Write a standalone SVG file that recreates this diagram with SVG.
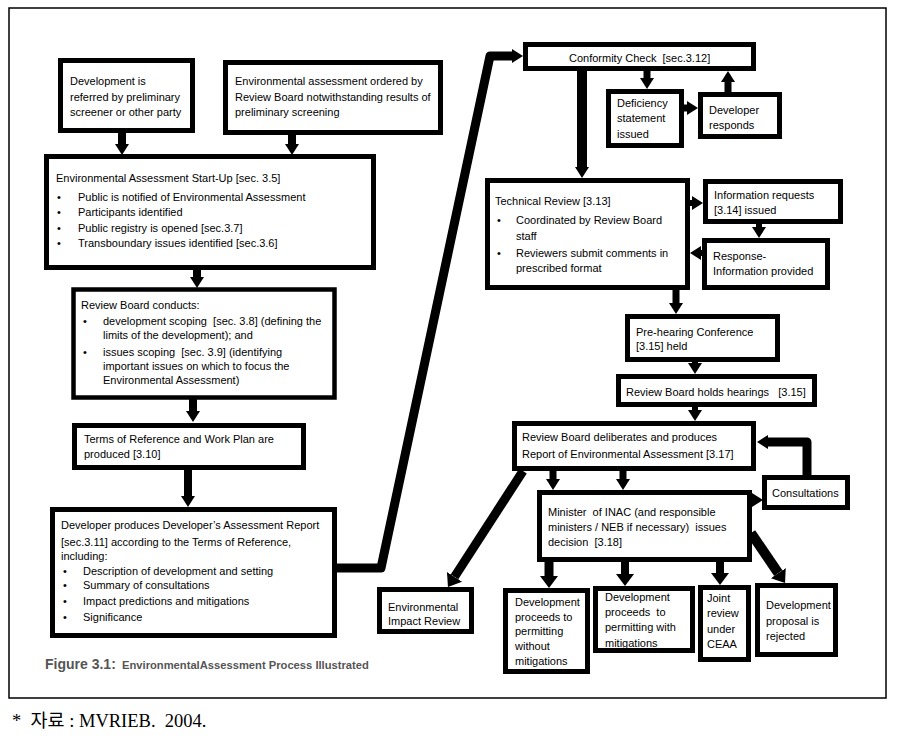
<svg xmlns="http://www.w3.org/2000/svg" width="902" height="741" viewBox="0 0 902 741">
<defs>
<style>
.box{fill:#fff;stroke:#000;stroke-width:5}
.t{font-family:"Liberation Sans",Arial,sans-serif;font-size:11px;fill:#000}
.c{fill:none;stroke:#000;stroke-linejoin:round}
</style>
<marker id="ah" markerUnits="userSpaceOnUse" markerWidth="16" markerHeight="16" refX="0" refY="8" orient="auto" viewBox="0 0 16 16"><path d="M0,1 L11,8 L0,15 z" fill="#000"/></marker>
<marker id="ahL" markerUnits="userSpaceOnUse" markerWidth="18" markerHeight="20" refX="0" refY="10" orient="auto" viewBox="0 0 18 20"><path d="M0,1 L12,10 L0,19 z" fill="#000"/></marker>
</defs>
<rect x="0" y="0" width="902" height="741" fill="#fff"/>
<rect x="9" y="8" width="877" height="690" fill="none" stroke="#000" stroke-width="1.5"/>

<g id="connectors">
<line class="c" x1="122" y1="133" x2="122" y2="144" stroke-width="8" marker-end="url(#ah)"/>
<line class="c" x1="292" y1="135" x2="292" y2="144" stroke-width="8" marker-end="url(#ah)"/>
<line class="c" x1="197" y1="268" x2="197" y2="277" stroke-width="8" marker-end="url(#ah)"/>
<line class="c" x1="193" y1="398" x2="193" y2="411" stroke-width="8" marker-end="url(#ah)"/>
<line class="c" x1="188" y1="468" x2="188" y2="496" stroke-width="8" marker-end="url(#ah)"/>
<polyline class="c" points="335,568 381,568 490,56 512,56" stroke-width="9" marker-end="url(#ah)"/>
<line class="c" x1="582" y1="69" x2="582" y2="167" stroke-width="10" marker-end="url(#ah)"/>
<line class="c" x1="647" y1="69" x2="647" y2="78" stroke-width="7" marker-end="url(#ah)"/>
<line class="c" x1="682" y1="108" x2="687" y2="108" stroke-width="7" marker-end="url(#ah)"/>
<line class="c" x1="728" y1="94" x2="728" y2="82" stroke-width="7" marker-end="url(#ah)"/>
<line class="c" x1="688" y1="203" x2="692" y2="203" stroke-width="6" marker-end="url(#ah)"/>
<line class="c" x1="759" y1="222" x2="759" y2="227" stroke-width="6" marker-end="url(#ah)"/>
<line class="c" x1="704" y1="253" x2="701" y2="253" stroke-width="6" marker-end="url(#ah)"/>
<line class="c" x1="676" y1="288" x2="676" y2="303" stroke-width="7" marker-end="url(#ah)"/>
<line class="c" x1="695" y1="360" x2="695" y2="363" stroke-width="6" marker-end="url(#ah)"/>
<line class="c" x1="695" y1="405" x2="695" y2="410" stroke-width="6" marker-end="url(#ah)"/>
<polyline class="c" points="807,478 807,442 768,442" stroke-width="9" marker-end="url(#ah)"/>
<line class="c" x1="553" y1="469" x2="553" y2="479" stroke-width="7" marker-end="url(#ah)"/>
<line class="c" x1="623" y1="469" x2="623" y2="479" stroke-width="7" marker-end="url(#ah)"/>
<line class="c" x1="750" y1="500" x2="752" y2="500" stroke-width="6" marker-end="url(#ah)"/>
<line class="c" x1="523" y1="471" x2="454.5" y2="576.9" stroke-width="9" marker-end="url(#ahL)"/>
<line class="c" x1="549" y1="560" x2="549" y2="576" stroke-width="9" marker-end="url(#ahL)"/>
<line class="c" x1="625" y1="560" x2="625" y2="574" stroke-width="8" marker-end="url(#ahL)"/>
<line class="c" x1="720" y1="560" x2="720" y2="573" stroke-width="8" marker-end="url(#ahL)"/>
<line class="c" x1="751" y1="533" x2="778.3" y2="573.1" stroke-width="10" marker-end="url(#ahL)"/>
</g>

<g id="n-referred">
<rect class="box" x="60.5" y="60.5" width="132" height="70"/>
<text class="t" x="70" y="85">Development is</text>
<text class="t" x="70" y="101">referred by preliminary</text>
<text class="t" x="70" y="116">screener or other party</text>
</g>
<g id="n-ordered">
<rect class="box" x="225.5" y="62.5" width="215" height="70"/>
<text class="t" x="235" y="85">Environmental assessment ordered by</text>
<text class="t" x="235" y="101">Review Board notwithstanding results of</text>
<text class="t" x="235" y="116">preliminary screening</text>
</g>
<g id="n-startup">
<rect class="box" x="46.5" y="156.5" width="327" height="111"/>
<text class="t" x="56" y="182">Environmental Assessment Start-Up [sec. 3.5]</text>
<text class="t" x="57" y="201">•</text><text class="t" x="78" y="201">Public is notified of Environmental Assessment</text>
<text class="t" x="57" y="216">•</text><text class="t" x="78" y="216">Participants identified</text>
<text class="t" x="57" y="232">•</text><text class="t" x="78" y="232">Public registry is opened [sec.3.7]</text>
<text class="t" x="57" y="247">•</text><text class="t" x="78" y="247">Transboundary issues identified [sec.3.6]</text>
</g>
<g id="n-conducts">
<rect class="box" x="73.5" y="289.5" width="261" height="108" style="stroke-width:4.5"/>
<text class="t" x="81" y="309">Review Board conducts:</text>
<text class="t" x="83" y="325">•</text><text class="t" x="103" y="325">development scoping&#160; [sec. 3.8] (defining the</text>
<text class="t" x="103" y="339">limits of the development); and</text>
<text class="t" x="83" y="356">•</text><text class="t" x="103" y="356">issues scoping&#160; [sec. 3.9] (identifying</text>
<text class="t" x="103" y="370">important issues on which to focus the</text>
<text class="t" x="103" y="384">Environmental Assessment)</text>
</g>
<g id="n-terms">
<rect class="box" x="74.5" y="425.5" width="229" height="42"/>
<text class="t" x="84" y="443">Terms of Reference and Work Plan are</text>
<text class="t" x="84" y="458">produced [3.10]</text>
</g>
<g id="n-report">
<rect class="box" x="52.5" y="509.5" width="282" height="126"/>
<text class="t" x="61" y="529">Developer produces Developer’s Assessment Report</text>
<text class="t" x="61" y="546">[sec.3.11] according to the Terms of Reference,</text>
<text class="t" x="61" y="560">including:</text>
<text class="t" x="63" y="575">•</text><text class="t" x="83" y="575">Description of development and setting</text>
<text class="t" x="63" y="589">•</text><text class="t" x="83" y="589">Summary of consultations</text>
<text class="t" x="63" y="605">•</text><text class="t" x="83" y="605">Impact predictions and mitigations</text>
<text class="t" x="63" y="621">•</text><text class="t" x="83" y="621">Significance</text>
</g>
<g id="n-conformity">
<rect class="box" x="525.5" y="44.5" width="228" height="24"/>
<text class="t" x="569" y="62">Conformity Check&#160; [sec.3.12]</text>
</g>
<g id="n-deficiency">
<rect class="box" x="608.5" y="91.5" width="73" height="54"/>
<text class="t" x="617" y="107">Deficiency</text>
<text class="t" x="617" y="122">statement</text>
<text class="t" x="617" y="138">issued</text>
</g>
<g id="n-responds">
<rect class="box" x="700.5" y="94.5" width="79" height="42"/>
<text class="t" x="709" y="114">Developer</text>
<text class="t" x="709" y="129">responds</text>
</g>
<g id="n-technical">
<rect class="box" x="487.5" y="180.5" width="200" height="107"/>
<text class="t" x="495" y="205">Technical Review [3.13]</text>
<text class="t" x="497" y="224">•</text><text class="t" x="516" y="224">Coordinated by Review Board</text>
<text class="t" x="516" y="240">staff</text>
<text class="t" x="497" y="257">•</text><text class="t" x="516" y="257">Reviewers submit comments in</text>
<text class="t" x="516" y="272">prescribed format</text>
</g>
<g id="n-info">
<rect class="box" x="705.5" y="181.5" width="135" height="40"/>
<text class="t" x="714" y="199">Information requests</text>
<text class="t" x="714" y="214">[3.14] issued</text>
</g>
<g id="n-response">
<rect class="box" x="704.5" y="240.5" width="123" height="47"/>
<text class="t" x="713" y="260">Response-</text>
<text class="t" x="713" y="275">Information provided</text>
</g>
<g id="n-prehearing">
<rect class="box" x="627.5" y="316.5" width="150" height="43"/>
<text class="t" x="636" y="336">Pre-hearing Conference</text>
<text class="t" x="636" y="350">[3.15] held</text>
</g>
<g id="n-hearings">
<rect class="box" x="618.5" y="376.5" width="196" height="28"/>
<text class="t" x="626" y="396">Review Board holds hearings&#160;&#160; [3.15]</text>
</g>
<g id="n-deliberates">
<rect class="box" x="514.5" y="423.5" width="239" height="45"/>
<text class="t" x="522" y="441">Review Board deliberates and produces</text>
<text class="t" x="522" y="458">Report of Environmental Assessment [3.17]</text>
</g>
<g id="n-consultations">
<rect class="box" x="764.5" y="477.5" width="83" height="30"/>
<text class="t" x="772" y="497">Consultations</text>
</g>
<g id="n-minister">
<rect class="box" x="539.5" y="492.5" width="210" height="67"/>
<text class="t" x="548" y="516">Minister&#160; of INAC (and responsible</text>
<text class="t" x="548" y="531">ministers / NEB if necessary)&#160; issues</text>
<text class="t" x="548" y="546">decision&#160; [3.18]</text>
</g>
<g id="n-eir">
<rect class="box" x="379.5" y="589.5" width="92" height="42"/>
<text class="t" x="388" y="611">Environmental</text>
<text class="t" x="388" y="625">Impact Review</text>
</g>
<g id="n-without">
<rect class="box" x="505.5" y="590.5" width="82" height="81"/>
<text class="t" x="515" y="606">Development</text>
<text class="t" x="515" y="621">proceeds to</text>
<text class="t" x="515" y="635">permitting</text>
<text class="t" x="515" y="650">without</text>
<text class="t" x="515" y="665">mitigations</text>
</g>
<g id="n-with">
<rect class="box" x="595.5" y="588.5" width="97" height="62"/>
<text class="t" x="605" y="601">Development</text>
<text class="t" x="605" y="616">proceeds&#160; to</text>
<text class="t" x="605" y="631">permitting with</text>
<text class="t" x="605" y="647">mitigations</text>
</g>
<g id="n-joint">
<rect class="box" x="700.5" y="587.5" width="48" height="72"/>
<text class="t" x="707" y="602">Joint</text>
<text class="t" x="707" y="617">review</text>
<text class="t" x="707" y="633">under</text>
<text class="t" x="707" y="648">CEAA</text>
</g>
<g id="n-rejected">
<rect class="box" x="757.5" y="585.5" width="78" height="69"/>
<text class="t" x="766" y="609">Development</text>
<text class="t" x="766" y="625">proposal is</text>
<text class="t" x="766" y="640">rejected</text>
</g>

<text x="45" y="669" font-family="Liberation Sans, Arial, sans-serif" font-weight="bold" fill="#555"><tspan font-size="14">Figure 3.1:</tspan><tspan x="122" font-size="11.2">EnvironmentalAssessment Process Illustrated</tspan></text>
<text x="12" y="727" font-family="'Liberation Serif','Noto Sans CJK KR',serif" font-size="18.5" fill="#000">*&#160; 자료 : MVRIEB.&#160; 2004.</text>
</svg>
